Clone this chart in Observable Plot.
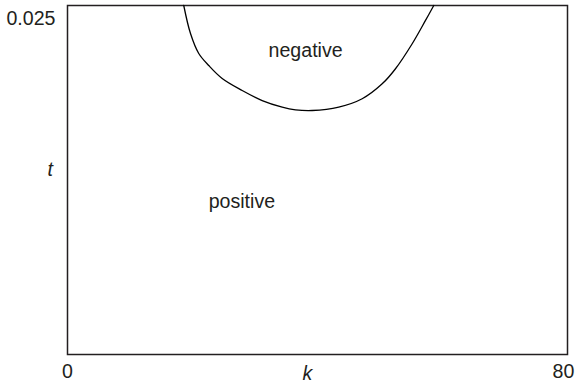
<!DOCTYPE html>
<html>
<head>
<meta charset="utf-8">
<script src="https://cdn.jsdelivr.net/npm/d3@7"></script>
<script src="https://cdn.jsdelivr.net/npm/@observablehq/plot@0.6"></script>
<style>
  html, body { margin: 0; padding: 0; background: #fff; }
</style>
</head>
<body>
<div id="chart"></div>
<script>
// Boundary curve between negative and positive regions (k, t)
const curveK = [18.6, 19.68, 21.0, 22.6, 24.75, 27.95, 31.15, 34.35, 36.48, 39.15, 43.4, 47.15, 50.35, 52.48, 55.15, 57.28, 58.6];
const curveT = [0.025, 0.02299, 0.02156, 0.0207, 0.01977, 0.01891, 0.01819, 0.01772, 0.01753, 0.01748, 0.01772, 0.01832, 0.01939, 0.02047, 0.02226, 0.02393, 0.025];

// Region labels
const regionLabels = ["negative", "positive"];
const regionK = [38.1, 27.9];
const regionT = [0.02128, 0.01046];

// Axis ticks
const xTickLeft = [0];
const xTickRight = [80];
const yTicks = [0.025];
const xLabel = "k";
const yLabel = "t";

const curveData = curveK.map((k, i) => ({k, t: curveT[i]}));
const labelData = regionLabels.map((s, i) => ({s, k: regionK[i], t: regionT[i]}));

const ink = "#231f20";
const fs = 19.6;

const chart = Plot.plot({
  width: 575,
  height: 384,
  marginLeft: 67,
  marginRight: 8,
  marginTop: 5,
  marginBottom: 30,
  x: {domain: [0, 80]},
  y: {domain: [0, 0.025]},
  style: {fontFamily: "'Liberation Sans', Arial, Helvetica, sans-serif", fontSize: fs + "px", color: ink, background: "#fff"},
  marks: [
    Plot.frame({stroke: ink, strokeWidth: 1.5}),
    Plot.line(curveData, {x: "k", y: "t", curve: "catmull-rom", stroke: "#000", strokeWidth: 1.3}),
    Plot.text(labelData, {x: "k", y: "t", text: "s", lineAnchor: "bottom", fill: ink, fontSize: fs}),
    Plot.axisX(xTickLeft, {tickSize: 0, tickPadding: 10, label: null, tickFormat: d => String(d), fill: ink, fontSize: fs}),
    Plot.axisX(xTickRight, {tickSize: 0, tickPadding: 10, dx: -4, label: null, tickFormat: d => String(d), fill: ink, fontSize: fs}),
    Plot.axisY(yTicks, {tickSize: 0, tickPadding: 12, dy: 13, label: null, tickFormat: d => String(d), fill: ink, fontSize: fs}),
    Plot.text([xLabel], {frameAnchor: "bottom", dx: -10, dy: 25, lineAnchor: "bottom", fontStyle: "italic", fill: ink, fontSize: fs}),
    Plot.text([yLabel], {frameAnchor: "left", dx: -20, dy: -4, lineAnchor: "bottom", fontStyle: "italic", fill: ink, fontSize: fs})
  ]
});

document.getElementById("chart").appendChild(chart);
</script>
</body>
</html>
